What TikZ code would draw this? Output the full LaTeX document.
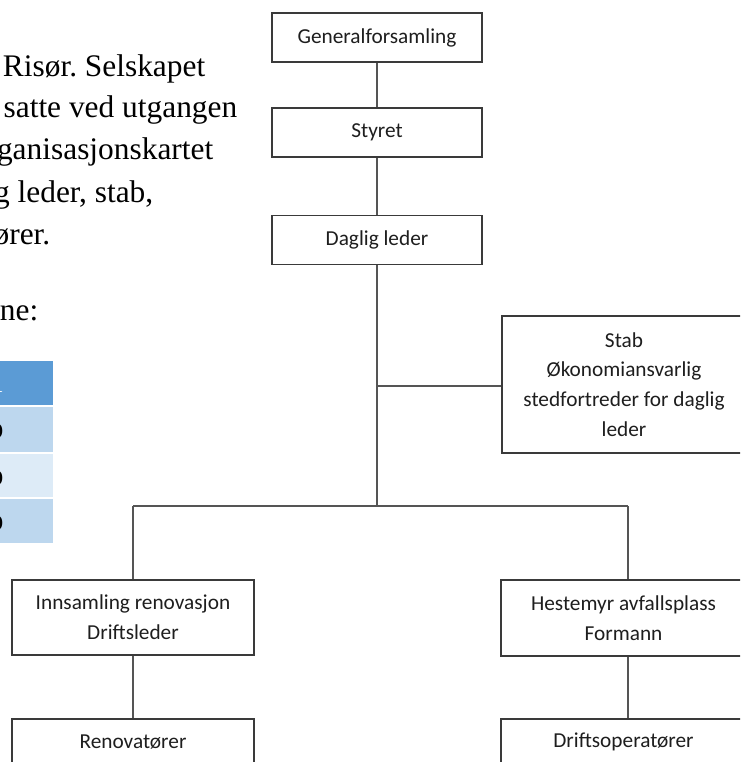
\documentclass[tikz,border=0pt]{standalone}
\usepackage{fontspec}
\setmainfont{Liberation Serif}
\newfontfamily\boxfont{Carlito}
\frenchspacing
\definecolor{boxgray}{HTML}{3A3A3A}
\definecolor{linegray}{HTML}{555555}
\definecolor{txtgray}{HTML}{1E1E1E}
\definecolor{hdrblue}{HTML}{5B9BD5}
\definecolor{rowa}{HTML}{BDD7EE}
\definecolor{rowb}{HTML}{DDEBF7}
\tikzset{
  orgbox/.style={draw=boxgray, line width=1.6pt, fill=white, inner sep=0pt,
    minimum width=210pt, minimum height=49pt,
    font=\boxfont\fontsize{21.3}{29.7}\selectfont, text=txtgray, align=center},
  conn/.style={draw=linegray, line width=1.3pt},
  bodytext/.style={anchor=base east, inner sep=0pt, font=\fontsize{31.4}{42}\selectfont},
  cellglyph/.style={anchor=base east, inner sep=0pt, font=\fontsize{31.4}{42}\selectfont}
}
\begin{document}
\begin{tikzpicture}[x=1pt,y=-1pt]
\useasboundingbox (0,0) rectangle (740,762);
\clip (0,0) rectangle (740,762);
\fill[white] (0,0) rectangle (740,762);

% body text (cut at the left)
\node[bodytext] (t1) at (205.5,76.5) {Risør. Selskapet};
\node[bodytext] (t2) at (237.5,117.5) {satte ved utgangen};
\node[bodytext] (t3) at (213.5,160) {ganisasjonskartet};
\node[bodytext] (t4) at (153.5,202) {g leder, stab,};
\node[bodytext] (t5) at (50.5,244) {ører.};
\node[bodytext] (t6) at (38.5,320) {ne:};

% table fragment
\fill[hdrblue] (-5,361) rectangle (53,404.5);
\fill[rowa] (-5,406.5) rectangle (53,452);
\fill[rowb] (-5,454) rectangle (53,497);
\fill[rowa] (-5,499) rectangle (53,543);
\node[cellglyph, text=white] (h1) at (3,392) {l};
\node[cellglyph] (r1) at (3.7,438) {o};
\node[cellglyph] (r2) at (3.7,485) {o};
\node[cellglyph] (r3) at (3.7,530) {o};

% org chart boxes
\node[orgbox] (gen) at (377,37.5) {Generalforsamling};
\node[orgbox] (sty) at (377,132.5) {Styret};
\node[orgbox] (dag) at (377,240) {Daglig leder};
\node[orgbox, minimum width=244pt, minimum height=137pt] (stab) at (624,384.5)
  {Stab\\Økonomiansvarlig\\stedfortreder for daglig\\leder};
\node[orgbox, minimum width=242pt, minimum height=75pt] (inn) at (133,617.5)
  {Innsamling renovasjon\\Driftsleder};
\node[orgbox, minimum width=242pt, minimum height=46pt] (ren) at (133,742) {Renovatører};
\node[orgbox, minimum width=245pt, minimum height=76pt] (hes) at (623.5,618)
  {Hestemyr avfallsplass\\Formann};
\node[orgbox, minimum width=245pt, minimum height=46pt] (dri) at (623.5,742) {Driftsoperatører};

% connectors
\coordinate (bus) at (377,506);
\coordinate (jl) at (133,506);
\coordinate (jr) at (628,506);
\draw[conn] (gen) -- (sty);
\draw[conn] (sty) -- (dag);
\draw[conn] (dag.south) -- (bus);
\draw[conn] (bus |- 0,386) -- (stab.west |- 0,386);
\draw[conn] (jl) -- (jr);
\draw[conn] (jl) -- (inn.north);
\draw[conn] (inn) -- (ren);
\draw[conn] (jr) -- (jr |- hes.north);
\draw[conn] (hes.south -| jr) -- (jr |- dri.north);
\end{tikzpicture}
\end{document}
